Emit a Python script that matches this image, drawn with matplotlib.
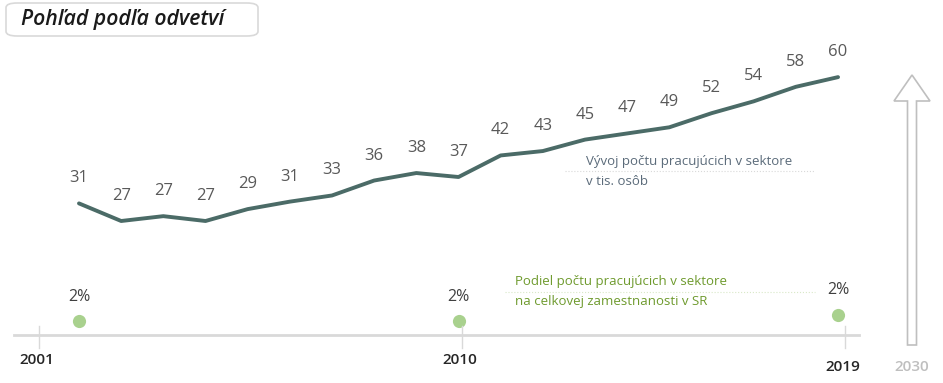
import matplotlib.pyplot as plt
from matplotlib.patches import FancyBboxPatch, Polygon
import matplotlib.transforms as mtransforms

years = list(range(2001, 2020))
# line heights as drawn in the picture, labels as printed
workers = [31.0, 27.0, 28.1, 27.0, 29.7, 31.4, 32.8, 36.2, 37.9, 37.0,
           41.9, 42.9, 45.5, 46.9, 48.3, 51.5, 54.2, 57.5, 59.7]
worker_labels = ['31', '27', '27', '27', '29', '31', '33', '36', '38', '37',
                 '42', '43', '45', '47', '49', '52', '54', '58', '60']
share_years = [2001, 2010, 2019]
share_labels = ['2%', '2%', '2%']
axis_labels = ['2001', '2010', '2019']

W, H = 943, 383
fig = plt.figure(figsize=(W / 100, H / 100), dpi=100)
ax = fig.add_axes([0, 0, 1, 1])
ax.set_xlim(1999.127, 1999.127 + W / 42.17)
ax.set_ylim((339.8 - H) / 4.4, 339.8 / 4.4)
ax.axis('off')

def P(x, y):
    # pixel position -> figure fraction
    return x / W, 1 - y / H

font = 'Open Sans'
blend = mtransforms.blended_transform_factory(ax.transData, fig.transFigure)

# title box
box = FancyBboxPatch(P(6, 36), 252 / W, 33 / H, boxstyle='round,pad=0,rounding_size=0.012',
                     transform=fig.transFigure, fc='white', ec='#d9d9d9', lw=1.2)
fig.patches.append(box)
fig.text(*P(21, 20), 'Pohľad podľa odvetví', family=font, style='italic', weight='semibold',
         fontsize=15.3, color='#1a1a1a', va='center', ha='left')

# main line
ax.plot(years, workers, color='#4b6b67', lw=2.8, solid_capstyle='round', solid_joinstyle='round')
for x, v, lab in zip(years, workers, worker_labels):
    ax.annotate(lab, (x, v), xytext=(0, 18), textcoords='offset points', ha='center',
                va='center', fontsize=12, color='#595959', family=font)

# line annotation
fig.text(*P(586, 161), 'Vývoj počtu pracujúcich v sektore', family=font, fontsize=9.5,
         color='#5b6b7a', va='center')
fig.text(*P(586, 182), 'v tis. osôb', family=font, fontsize=9.5, color='#5b6b7a', va='center')
fig.lines.append(plt.Line2D([565 / W, 815 / W], [1 - 171 / H] * 2, transform=fig.transFigure,
                            color='#d9d9d9', lw=0.8, ls=':'))

# share dots
dot_y = [321, 321, 315]
lab_y = [297, 297, 290]
for x, s, dy, ly in zip(share_years, share_labels, dot_y, lab_y):
    ax.scatter([x], [1 - dy / H], s=90, color='#a9d18e', transform=blend, zorder=3, lw=0)
    ax.text(x, 1 - ly / H, s, transform=blend, ha='center', va='center', fontsize=11.5,
            color='#404040', family=font)

fig.text(*P(515, 282), 'Podiel počtu pracujúcich v sektore', family=font, fontsize=9.5,
         color='#6e9a2d', va='center')
fig.text(*P(515, 302), 'na celkovej zamestnanosti v SR', family=font, fontsize=9.5,
         color='#6e9a2d', va='center')
fig.lines.append(plt.Line2D([505 / W, 815 / W], [1 - 292 / H] * 2, transform=fig.transFigure,
                            color='#d9e8c8', lw=0.8, ls=':'))

# timeline
fig.lines.append(plt.Line2D([14 / W, 859 / W], [1 - 335 / H] * 2, transform=fig.transFigure,
                            color='#d9d9d9', lw=2))
for tx, lab, ly in zip([39, 462, 845], axis_labels, [360, 360, 367]):
    fig.lines.append(plt.Line2D([tx / W] * 2, [1 - 326 / H, 1 - 348 / H],
                                transform=fig.transFigure, color='#d9d9d9', lw=1))
    fig.text(*P(tx - 2, ly), lab, family=font, fontsize=11, weight='semibold',
             color='#262626', ha='center', va='center')
fig.text(*P(912, 367), '2030', family=font, fontsize=11, weight='semibold',
         color='#bfbfbf', ha='center', va='center')

# hollow arrow
cx, top, base, hw, sw, hh = 912, 75, 345, 18, 4.5, 26
pts = [(cx, top), (cx + hw, top + hh), (cx + sw, top + hh), (cx + sw, base),
       (cx - sw, base), (cx - sw, top + hh), (cx - hw, top + hh)]
fig.patches.append(Polygon([P(*p) for p in pts], closed=True, transform=fig.transFigure,
                           fc='white', ec='#bfbfbf', lw=1.2))

fig.savefig('out.png', dpi=100)
